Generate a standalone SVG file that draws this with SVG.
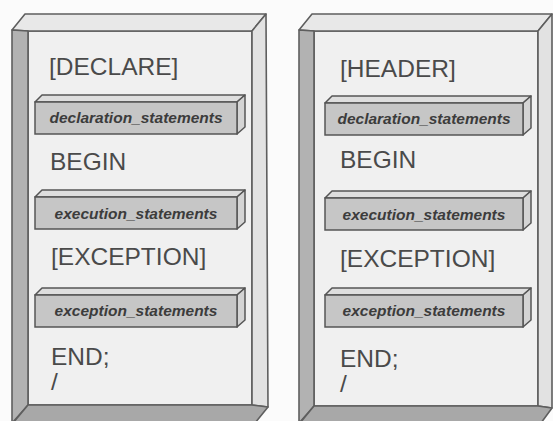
<svg xmlns="http://www.w3.org/2000/svg" width="553" height="421" viewBox="0 0 553 421">
  <defs>
    <style>
      .edge { stroke: #5e5e5e; stroke-width: 1.6; stroke-linejoin: round; }
      .face { fill: #f0f0f0; }
      .top { fill: #e8e8e8; }
      .left { fill: #b2b2b2; }
      .right { fill: #e2e2e2; }
      .bottom { fill: #a8a8a8; }
      .barfront { fill: #c6c6c6; stroke: #555; stroke-width: 1.5; }
      .bartop { fill: #dedede; stroke: #555; stroke-width: 1.5; stroke-linejoin: round; }
      .barside { fill: #d4d4d4; stroke: #555; stroke-width: 1.5; stroke-linejoin: round; }
      .kw { font-family: "Liberation Sans", Arial, sans-serif; font-size: 24.5px; fill: #4a4a4a; }
      .stmt { font-family: "Liberation Sans", Arial, sans-serif; font-size: 15.5px; font-weight: bold; font-style: italic; fill: #3c3c3c; text-anchor: middle; }
    </style>
  </defs>
  <rect width="553" height="421" fill="#fbfbfb"/>

  <!-- Left panel -->
  <g id="panel-left">
    <rect class="face edge" x="28" y="31" width="224" height="374"/>
    <polygon class="top edge" points="12,30 25,14 266,14 252,31 28,31"/>
    <polygon class="left edge" points="12,30 28,31 28,405 13,422 12,422"/>
    <polygon class="right edge" points="252,31 266,14 268,407 252,405"/>
    <polygon class="bottom edge" points="28,405 252,405 268,407 255,423 13,423"/>
  </g>

  <!-- Right panel -->
  <g id="panel-right">
    <rect class="face edge" x="314" y="31" width="224" height="375"/>
    <polygon class="top edge" points="299,30 312,14 552,14 538,31 314,31"/>
    <polygon class="left edge" points="299,30 314,31 314,406 300,422 299,422"/>
    <polygon class="right edge" points="538,31 552,14 552,408 538,406"/>
    <polygon class="bottom edge" points="314,406 538,406 552,408 541,423 300,423"/>
  </g>

  <!-- Left panel labels -->
  <g id="left-declare"><text class="kw" x="49" y="75">[DECLARE]</text></g>
  <g id="left-bar-declaration">
    <polygon class="bartop" points="35,102 42,95 245,95 237,102"/>
    <polygon class="barside" points="237,102 245,95 245,127 237,134"/>
    <rect class="barfront" x="35" y="102" width="202" height="32"/>
    <text class="stmt" x="136" y="123">declaration_statements</text>
  </g>
  <g id="left-begin"><text class="kw" x="50" y="170">BEGIN</text></g>
  <g id="left-bar-execution">
    <polygon class="bartop" points="35,197 42,190 245,190 237,197"/>
    <polygon class="barside" points="237,197 245,190 245,222 237,229"/>
    <rect class="barfront" x="35" y="197" width="202" height="32"/>
    <text class="stmt" x="136" y="219">execution_statements</text>
  </g>
  <g id="left-exception"><text class="kw" x="51" y="265">[EXCEPTION]</text></g>
  <g id="left-bar-exception">
    <polygon class="bartop" points="35,295 42,288 245,288 237,295"/>
    <polygon class="barside" points="237,295 245,288 245,320 237,327"/>
    <rect class="barfront" x="35" y="295" width="202" height="32"/>
    <text class="stmt" x="136" y="316">exception_statements</text>
  </g>
  <g id="left-end"><text class="kw" x="51" y="365">END;</text></g>
  <g id="left-slash"><text class="kw" x="51" y="390">/</text></g>

  <!-- Right panel labels -->
  <g id="right-header"><text class="kw" x="340" y="77">[HEADER]</text></g>
  <g id="right-bar-declaration">
    <polygon class="bartop" points="325,103 332,96 531,96 523,103"/>
    <polygon class="barside" points="523,103 531,96 531,128 523,135"/>
    <rect class="barfront" x="325" y="103" width="198" height="32"/>
    <text class="stmt" x="424" y="124">declaration_statements</text>
  </g>
  <g id="right-begin"><text class="kw" x="340" y="168">BEGIN</text></g>
  <g id="right-bar-execution">
    <polygon class="bartop" points="325,198 332,191 531,191 523,198"/>
    <polygon class="barside" points="523,198 531,191 531,223 523,230"/>
    <rect class="barfront" x="325" y="198" width="198" height="32"/>
    <text class="stmt" x="424" y="220">execution_statements</text>
  </g>
  <g id="right-exception"><text class="kw" x="340" y="267">[EXCEPTION]</text></g>
  <g id="right-bar-exception">
    <polygon class="bartop" points="325,295 332,288 531,288 523,295"/>
    <polygon class="barside" points="523,295 531,288 531,320 523,327"/>
    <rect class="barfront" x="325" y="295" width="198" height="32"/>
    <text class="stmt" x="424" y="316">exception_statements</text>
  </g>
  <g id="right-end"><text class="kw" x="340" y="367">END;</text></g>
  <g id="right-slash"><text class="kw" x="340" y="392">/</text></g>

  <g id="connectors"/>
</svg>
